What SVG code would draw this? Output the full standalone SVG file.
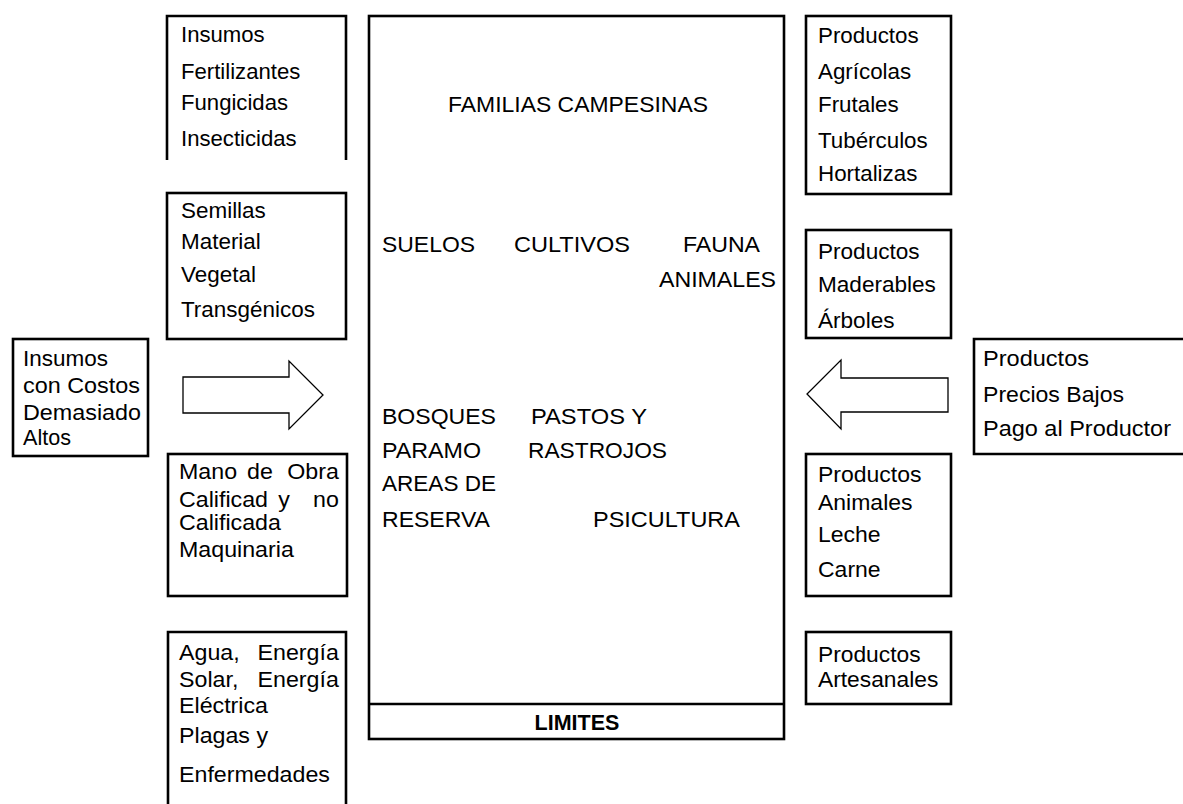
<svg xmlns="http://www.w3.org/2000/svg" width="1183" height="804" viewBox="0 0 1183 804">
<style>
.bx{fill:none;stroke:#000;stroke-width:2.6}
.ar{fill:#fff;stroke:#000;stroke-width:1.3;stroke-linejoin:miter}
text{font-family:"Liberation Sans",Arial,sans-serif;font-size:21.5px;fill:#000}
.b{font-weight:bold}
.e{text-anchor:end}
.m{text-anchor:middle}
</style>
<rect width="1183" height="804" fill="#fff"/>
<g id="insumos">
<path class="bx" d="M167,160 V16 H346 V160"/>
<g transform="matrix(1.03,0,0,1,-5.43,0)">
<text x="181" y="42">Insumos</text>
<text x="181" y="79">Fertilizantes</text>
<text x="181" y="110">Fungicidas</text>
<text x="181" y="146">Insecticidas</text>
</g>
</g>
<g id="semillas">
<rect class="bx" x="167" y="193" width="179" height="146"/>
<g transform="matrix(1.045,0,0,1,-8.15,0)">
<text x="181" y="218">Semillas</text>
<text x="181" y="249">Material</text>
<text x="181" y="282">Vegetal</text>
<text x="181" y="317">Transgénicos</text>
</g>
</g>
<g id="costos">
<rect class="bx" x="13" y="339" width="135" height="117"/>
<text x="23" y="366" textLength="85" lengthAdjust="spacingAndGlyphs">Insumos</text>
<text x="23" y="393" textLength="117" lengthAdjust="spacingAndGlyphs">con Costos</text>
<text x="23" y="420" textLength="118" lengthAdjust="spacingAndGlyphs">Demasiado</text>
<text x="23" y="445" textLength="48" lengthAdjust="spacingAndGlyphs">Altos</text>
</g>
<g id="mano">
<rect class="bx" x="168" y="454" width="179" height="142"/>
<g transform="matrix(1.08,0,0,1,-14.32,0)">
<text x="179" y="479">Mano</text><text x="242" y="479">de</text><text class="e" x="327" y="479">Obra</text>
<text x="179" y="507">Calificad</text><text x="271" y="507">y</text><text class="e" x="327" y="507">no</text>
<text x="179" y="530">Calificada</text>
<text x="179" y="557">Maquinaria</text>
</g>
</g>
<g id="agua">
<path class="bx" d="M168,810 V632 H346 V810"/>
<g transform="matrix(1.08,0,0,1,-14.32,0)">
<text x="179" y="660">Agua,</text><text class="e" x="327" y="660">Energía</text>
<text x="179" y="687">Solar,</text><text class="e" x="327" y="687">Energía</text>
<text x="179" y="713">Eléctrica</text>
<text x="179" y="743">Plagas y</text>
<text x="179" y="782">Enfermedades</text>
</g>
</g>
<g id="sistema">
<rect class="bx" x="369" y="16" width="415" height="723"/>
<line class="bx" x1="369" y1="704" x2="784" y2="704"/>
<text x="448" y="112" textLength="260" lengthAdjust="spacingAndGlyphs">FAMILIAS CAMPESINAS</text>
<text x="382" y="252" textLength="93" lengthAdjust="spacingAndGlyphs">SUELOS</text>
<text x="514" y="252" textLength="116" lengthAdjust="spacingAndGlyphs">CULTIVOS</text>
<text x="683" y="252" textLength="77" lengthAdjust="spacingAndGlyphs">FAUNA</text>
<text x="659" y="287" textLength="117" lengthAdjust="spacingAndGlyphs">ANIMALES</text>
<text x="382" y="424" textLength="114" lengthAdjust="spacingAndGlyphs">BOSQUES</text>
<text x="531" y="424" textLength="116" lengthAdjust="spacingAndGlyphs">PASTOS Y</text>
<text x="382" y="458" textLength="99" lengthAdjust="spacingAndGlyphs">PARAMO</text>
<text x="528" y="458" textLength="139" lengthAdjust="spacingAndGlyphs">RASTROJOS</text>
<text x="382" y="491" textLength="114" lengthAdjust="spacingAndGlyphs">AREAS DE</text>
<text x="382" y="527" textLength="108" lengthAdjust="spacingAndGlyphs">RESERVA</text>
<text x="593" y="527" textLength="147" lengthAdjust="spacingAndGlyphs">PSICULTURA</text>
<text class="m b" x="577" y="730">LIMITES</text>
</g>
<g id="agricolas">
<rect class="bx" x="806" y="16" width="145" height="178"/>
<g transform="matrix(1.04,0,0,1,-32.72,0)">
<text x="818" y="43">Productos</text>
<text x="818" y="79">Agrícolas</text>
<text x="818" y="112">Frutales</text>
<text x="818" y="148">Tubérculos</text>
<text x="818" y="181">Hortalizas</text>
</g>
</g>
<g id="maderables">
<rect class="bx" x="806" y="230" width="145" height="108"/>
<g transform="matrix(1.05,0,0,1,-40.9,0)">
<text x="818" y="259">Productos</text>
<text x="818" y="292">Maderables</text>
<text x="818" y="328">Árboles</text>
</g>
</g>
<g id="precios">
<path class="bx" d="M1190,339 H974 V454 H1190"/>
<text x="983" y="366" textLength="106" lengthAdjust="spacingAndGlyphs">Productos</text>
<text x="983" y="402" textLength="141" lengthAdjust="spacingAndGlyphs">Precios Bajos</text>
<text x="983" y="436" textLength="188" lengthAdjust="spacingAndGlyphs">Pago al Productor</text>
</g>
<g id="animales">
<rect class="bx" x="806" y="454" width="145" height="142"/>
<g transform="matrix(1.07,0,0,1,-57.26,0)">
<text x="818" y="482">Productos</text>
<text x="818" y="510">Animales</text>
<text x="818" y="542">Leche</text>
<text x="818" y="577">Carne</text>
</g>
</g>
<g id="artesanales">
<rect class="bx" x="806" y="632" width="145" height="72"/>
<g transform="matrix(1.06,0,0,1,-49.08,0)">
<text x="818" y="662">Productos</text>
<text x="818" y="687">Artesanales</text>
</g>
</g>
<g id="connectors">
<polygon class="ar" points="183,377 289,377 289,361 323,395 289,429 289,413 183,413"/>
<polygon class="ar" points="948,378 841,378 841,360 807,394 841,429 841,412 948,412"/>
</g>
</svg>
